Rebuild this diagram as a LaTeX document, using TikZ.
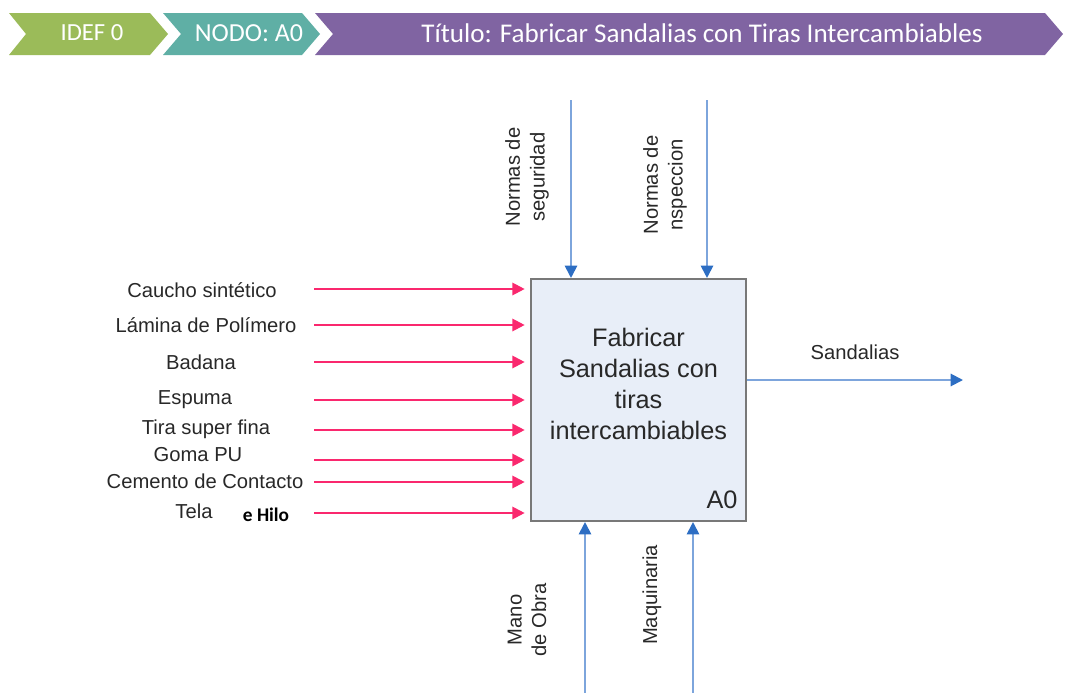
\documentclass[tikz,border=0pt]{standalone}
\usepackage{fontspec}
\setmainfont{Liberation Sans}
\newfontfamily\hdrfont{Carlito}
\usetikzlibrary{arrows.meta}

\definecolor{hdrgreen}{RGB}{155,187,89}
\definecolor{hdrteal}{RGB}{95,175,165}
\definecolor{hdrpurple}{RGB}{128,100,162}
\definecolor{inpink}{RGB}{250,40,110}
\definecolor{ctlline}{RGB}{125,165,220}
\definecolor{ctltip}{RGB}{45,110,195}
\definecolor{boxfill}{RGB}{232,238,248}
\definecolor{boxline}{RGB}{120,120,120}
\definecolor{txtgray}{RGB}{40,40,40}

\tikzset{
  hdrtext/.style={text=white,font=\hdrfont\fontsize{14}{16}\selectfont},
  lbl/.style={text=txtgray,font=\fontsize{11.5}{14}\selectfont,align=center},
  inarrow/.style={draw=inpink,line width=1.2pt,-{Triangle[length=7pt,width=7pt,color=inpink]}},
  ctlarrow/.style={draw=ctlline,line width=1.1pt,-{Triangle[length=7pt,width=7pt,color=ctltip]}},
  actbox/.style={draw=boxline,line width=1.2pt,fill=boxfill,minimum width=4.3cm,minimum height=4.84cm}
}

\begin{document}
\begin{tikzpicture}[x=0.02cm,y=-0.02cm]
  \useasboundingbox (0,0) rectangle (1079,693);

  % header
  \fill[hdrgreen] (9,13) -- (150,13) -- (168,34) -- (150,55) -- (9,55) -- (26,34) -- cycle;
  \fill[hdrteal] (163,13) -- (302,13) -- (320,34) -- (302,55) -- (163,55) -- (181,34) -- cycle;
  \fill[hdrpurple] (315,13) -- (1045,13) -- (1063,34) -- (1045,55) -- (315,55) -- (333,34) -- cycle;
  \node[hdrtext] (idef) at (92,33) {IDEF 0};
  \node[hdrtext,font=\hdrfont\fontsize{14.8}{16}\selectfont] (nodo) at (249,33) {NODO: A0};
  \node[hdrtext,font=\hdrfont\fontsize{15.4}{17}\selectfont] (titulo) at (702,33)
    {Título: Fabricar Sandalias con Tiras Intercambiables};

  % activity box
  \node[actbox] (box) at (638.5,400) {};
  \node[lbl,font=\fontsize{14.4}{17.6}\selectfont] (act) at (638.5,384)
    {Fabricar\\Sandalias con\\tiras\\intercambiables};
  \node[lbl,font=\fontsize{14.4}{17}\selectfont] (a0) at (722,500) {A0};

  % inputs
  \foreach \y/\n in {289/a,325/b,362/c,400/d,430/e,460/f,482/g,513/h} {
    \coordinate (s\n) at (314,\y);
    \draw[inarrow,shorten >=3pt] (s\n) -- (s\n -| box.west);
  }
  \node[lbl] (caucho) at (202,290) {Caucho sintético};
  \node[lbl] (lamina) at (206,325) {Lámina de Polímero};
  \node[lbl] (badana) at (201,362) {Badana};
  \node[lbl] (espuma) at (195,400) {Espuma};
  \node[lbl] (tira) at (206,429) {Tira super fina};
  \node[lbl] (goma) at (198,455) {Goma PU};
  \node[lbl] (cemento) at (205,481) {Cemento de Contacto};
  \node[lbl] (tela) at (194,511) {Tela};
  \node[font=\hdrfont\bfseries\fontsize{11}{13}\selectfont,text=black] (hilo) at (266,515) {e Hilo};

  % controls
  \coordinate (c1) at (571,100);
  \coordinate (c2) at (707,100);
  \draw[ctlarrow] (c1) -- (c1 |- box.north);
  \draw[ctlarrow] (c2) -- (c2 |- box.north);
  \node[lbl,rotate=90] (seg) at (527,177) {Normas de\\seguridad};
  \node[lbl,rotate=90] (insp) at (665,185) {Normas de\\nspeccion};

  % mechanisms
  \coordinate (m1) at (585,693);
  \coordinate (m2) at (693,693);
  \draw[ctlarrow] (m1) -- (m1 |- box.south);
  \draw[ctlarrow] (m2) -- (m2 |- box.south);
  \node[lbl,rotate=90] (mano) at (527,620) {Mano\\de Obra};
  \node[lbl,rotate=90] (maq) at (652,595) {Maquinaria};

  % output
  \coordinate (out) at (963,380);
  \draw[ctlarrow] (box.east |- out) -- (out);
  \node[lbl] (sand) at (855,352) {Sandalias};

\end{tikzpicture}
\end{document}
